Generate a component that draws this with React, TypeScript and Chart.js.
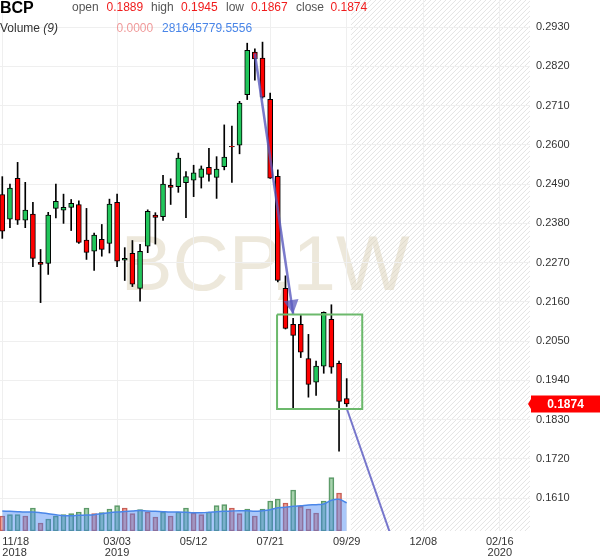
import React, { useEffect, useRef } from 'react';
import { Chart, registerables } from 'chart.js';

Chart.register(...registerables);

const FONT = "Arial, 'Liberation Sans', Helvetica, sans-serif";

// Weekly candles, index 0 = week of 11/18/2018 ... index 45 = week of 09/29/2019
const openP = [
  0.2461, 0.2392, 0.2506, 0.2389, 0.2406, 0.2271, 0.2268, 0.2422, 0.2417, 0.2425,
  0.2433, 0.2333, 0.2302, 0.2335, 0.2324, 0.2439, 0.2277, 0.2296, 0.2198, 0.2316,
  0.2403, 0.2399, 0.2487, 0.2483, 0.2494, 0.2501, 0.2509, 0.2537, 0.2509, 0.2539,
  0.2596, 0.2599, 0.2741, 0.2860, 0.2843, 0.2728, 0.2512, 0.2198, 0.2097, 0.2097,
  0.2001, 0.1935, 0.1980, 0.2111, 0.1988, 0.1889,
];
const highP = [
  0.2511, 0.2490, 0.2551, 0.2495, 0.2439, 0.2307, 0.2411, 0.2490, 0.2462, 0.2447,
  0.2443, 0.2422, 0.2353, 0.2377, 0.2448, 0.2462, 0.2312, 0.2332, 0.2321, 0.2418,
  0.2410, 0.2515, 0.2505, 0.2577, 0.2525, 0.2543, 0.2541, 0.2590, 0.2567, 0.2656,
  0.2653, 0.2722, 0.2885, 0.2869, 0.2888, 0.2745, 0.2530, 0.2233, 0.2114, 0.2122,
  0.2069, 0.1994, 0.2132, 0.2152, 0.1994, 0.1945,
];
const lowP = [
  0.2338, 0.2368, 0.2377, 0.2368, 0.2259, 0.2158, 0.2237, 0.2395, 0.2380, 0.2360,
  0.2324, 0.2279, 0.2248, 0.2288, 0.2297, 0.2259, 0.2220, 0.2203, 0.2162, 0.2298,
  0.2322, 0.2388, 0.2433, 0.2467, 0.2396, 0.2455, 0.2479, 0.2498, 0.2450, 0.2530,
  0.2495, 0.2575, 0.2727, 0.2781, 0.2731, 0.2506, 0.2216, 0.2084, 0.1861, 0.2004,
  0.1893, 0.1898, 0.1960, 0.1960, 0.1742, 0.1867,
];
const closeP = [
  0.2358, 0.2479, 0.2389, 0.2417, 0.2282, 0.2265, 0.2403, 0.2442, 0.2425, 0.2436,
  0.2327, 0.2299, 0.2347, 0.2307, 0.2434, 0.2274, 0.2282, 0.2210, 0.2302, 0.2414,
  0.2397, 0.2490, 0.2481, 0.2563, 0.2511, 0.2522, 0.2533, 0.2517, 0.2532, 0.2566,
  0.2594, 0.2717, 0.2865, 0.2841, 0.2734, 0.2507, 0.2220, 0.2086, 0.2066, 0.2019,
  0.1929, 0.1980, 0.2131, 0.1977, 0.1881, 0.1874,
];
// Volume in millions
const volumeM = [
  150, 163, 163, 150, 230, 80, 120, 150, 163, 173,
  190, 230, 173, 183, 220, 253, 230, 173, 213, 190,
  140, 190, 150, 190, 230, 180, 163, 190, 253, 263,
  230, 173, 220, 150, 220, 300, 320, 280, 410, 247,
  220, 180, 300, 533, 380, 0,
];
const volumeUp = [
  false, true, true, false, true, false, true, true, true, true,
  true, true, false, true, true, true, false, false, true, false,
  false, true, false, true, true, false, false, true, true, true,
  false, false, true, false, true, true, true, false, true, false,
  false, false, true, true, false, false,
];
// Volume moving average (9), millions
const volumeMA = [
  200, 197, 193, 190, 190, 183, 173, 163, 153, 153,
  157, 160, 163, 173, 183, 190, 195, 200, 205, 200,
  197, 193, 190, 190, 187, 183, 183, 187, 193, 197,
  200, 203, 203, 197, 203, 213, 233, 237, 247, 253,
  260, 263, 270, 307, 317, 281.6,
];

const priceTicks = [0.2930, 0.2820, 0.2710, 0.2600, 0.2490, 0.2380, 0.2270, 0.2160, 0.2050, 0.1940, 0.1830, 0.1720, 0.1610];
const dateTickPos = [0, 15, 25, 35, 45, 55, 65];
const dateTickLabels = [['11/18', '2018'], ['03/03', '2019'], ['05/12'], ['07/21'], ['09/29'], ['12/08'], ['02/16', '2020']];

// Drawings (in data coordinates: week index, price)
const arrowLineX = [33, 38];
const arrowLineY = [0.2856, 0.2126];
const trendLineX = [45.03, 51.2];
const trendLineY = [0.1860, 0.1479];
const boxX = [35.9, 47.03];
const boxY = [0.2125, 0.1860];
const futureStart = 45.55;

const X_MIN = -0.3;
const X_MAX = 68.95;
const Y_MIN = 0.1518;
const Y_MAX = 0.3006;
const VOL_MAX = 5310;

const GREEN = '#21c65b';
const RED = '#ff0000';

const zeroPad = (s: any) => {
  s.paddingLeft = 0;
  s.paddingRight = 0;
  s.paddingTop = 0;
  s.paddingBottom = 0;
};

const decorPlugin = {
  id: 'decor',
  beforeDraw(chart: any) {
    const { ctx, chartArea: a, scales } = chart;
    const x0 = scales.x.getPixelForValue(futureStart);
    ctx.save();
    ctx.beginPath();
    ctx.rect(x0, a.top, a.right - x0, a.bottom - a.top);
    ctx.clip();
    ctx.strokeStyle = '#e3e3e3';
    ctx.lineWidth = 1;
    const h = a.bottom - a.top;
    for (let k = x0 - h; k < a.right + 6; k += 5) {
      ctx.beginPath();
      ctx.moveTo(k, a.bottom);
      ctx.lineTo(k + h, a.top);
      ctx.stroke();
    }
    ctx.restore();

    ctx.save();
    ctx.font = `78px ${FONT}`;
    ctx.fillStyle = 'rgba(215,205,175,0.45)';
    ctx.textAlign = 'center';
    ctx.textBaseline = 'alphabetic';
    ctx.fillText('BCP,1W', (a.left + a.right) / 2, (a.top + a.bottom) / 2 + 24);
    ctx.restore();
  },
  afterDatasetsDraw(chart: any) {
    const { ctx, scales } = chart;
    const xs = scales.x;
    const ys = scales.y;
    // arrow head
    const sx = xs.getPixelForValue(arrowLineX[0]);
    const sy = ys.getPixelForValue(arrowLineY[0]);
    const ex = xs.getPixelForValue(arrowLineX[1]);
    const ey = ys.getPixelForValue(arrowLineY[1]);
    const len = Math.hypot(ex - sx, ey - sy);
    const dx = (ex - sx) / len;
    const dy = (ey - sy) / len;
    const bx = ex - dx * 14;
    const by = ey - dy * 14;
    ctx.save();
    ctx.fillStyle = 'rgba(90,90,190,0.75)';
    ctx.beginPath();
    ctx.moveTo(ex, ey);
    ctx.lineTo(bx - dy * 7.5, by + dx * 7.5);
    ctx.lineTo(bx + dy * 7.5, by - dx * 7.5);
    ctx.closePath();
    ctx.fill();
    ctx.restore();

    // last price label
    const last = closeP[closeP.length - 1];
    const py = ys.getPixelForValue(last);
    const left = chart.chartArea.right + 1;
    ctx.save();
    ctx.fillStyle = RED;
    ctx.beginPath();
    ctx.moveTo(left - 3, py);
    ctx.lineTo(left, py - 5);
    ctx.lineTo(left, py - 8.5);
    ctx.lineTo(chart.width, py - 8.5);
    ctx.lineTo(chart.width, py + 8.5);
    ctx.lineTo(left, py + 8.5);
    ctx.lineTo(left, py + 5);
    ctx.closePath();
    ctx.fill();
    ctx.fillStyle = '#ffffff';
    ctx.font = `bold 12px ${FONT}`;
    ctx.textAlign = 'center';
    ctx.textBaseline = 'middle';
    ctx.fillText(last.toFixed(4), (left + chart.width) / 2, py + 0.5);
    ctx.restore();
  },
};

export default function App() {
  const ref = useRef<HTMLCanvasElement | null>(null);

  useEffect(() => {
    if (!ref.current) return;
    const idx = openP.map((_, i) => i);
    const chart = new Chart(ref.current, {
      data: {
        datasets: [
          {
            type: 'line',
            label: 'box',
            data: [
              { x: boxX[0], y: boxY[0] },
              { x: boxX[1], y: boxY[0] },
              { x: boxX[1], y: boxY[1] },
              { x: boxX[0], y: boxY[1] },
              { x: boxX[0], y: boxY[0] },
            ],
            borderColor: '#6cb96c',
            borderWidth: 2,
            pointRadius: 0,
            fill: false,
            tension: 0,
            yAxisID: 'y',
            order: 0,
          } as any,
          {
            type: 'line',
            label: 'arrow',
            data: arrowLineX.map((x, i) => ({ x, y: arrowLineY[i] })),
            borderColor: 'rgba(90,90,190,0.8)',
            borderWidth: 2.5,
            pointRadius: 0,
            fill: false,
            yAxisID: 'y',
            order: 0,
          } as any,
          {
            type: 'line',
            label: 'trend',
            data: trendLineX.map((x, i) => ({ x, y: trendLineY[i] })),
            borderColor: 'rgba(95,95,195,0.85)',
            borderWidth: 2,
            pointRadius: 0,
            fill: false,
            yAxisID: 'y',
            order: 0,
          } as any,
          {
            type: 'bar',
            label: 'body',
            data: idx.map((i) => ({ x: i, y: [openP[i], closeP[i]] })),
            backgroundColor: idx.map((i) => (closeP[i] >= openP[i] ? GREEN : RED)),
            borderColor: '#000000',
            borderWidth: 1,
            borderSkipped: false,
            barThickness: 5,
            grouped: false,
            yAxisID: 'y',
            order: 1,
          } as any,
          {
            type: 'bar',
            label: 'wick',
            data: idx.map((i) => ({ x: i, y: [lowP[i], highP[i]] })),
            backgroundColor: '#000000',
            borderWidth: 0,
            barThickness: 1,
            grouped: false,
            yAxisID: 'y',
            order: 2,
          } as any,
          {
            type: 'line',
            label: 'volMA',
            data: idx.map((i) => ({ x: i, y: volumeMA[i] })),
            borderColor: '#4a86e8',
            borderWidth: 1.5,
            backgroundColor: 'rgba(66,133,244,0.45)',
            fill: 'origin',
            pointRadius: 0,
            tension: 0.4,
            yAxisID: 'yVol',
            order: 5,
          } as any,
          {
            type: 'bar',
            label: 'volume',
            data: idx.map((i) => ({ x: i, y: volumeM[i] })),
            backgroundColor: idx.map((i) => (volumeUp[i] ? 'rgba(110,180,120,0.6)' : 'rgba(230,110,95,0.6)')),
            borderColor: idx.map((i) => (volumeUp[i] ? 'rgba(60,130,75,0.85)' : 'rgba(185,65,55,0.85)')),
            borderWidth: 1,
            borderSkipped: false,
            barThickness: 5,
            grouped: false,
            yAxisID: 'yVol',
            order: 6,
          } as any,
        ],
      },
      options: {
        animation: false,
        responsive: false,
        maintainAspectRatio: false,
        layout: { padding: 0 },
        plugins: { legend: { display: false }, tooltip: { enabled: false } },
        scales: {
          x: {
            type: 'linear',
            min: X_MIN,
            max: X_MAX,
            offset: false,
            grid: {
              offset: false,
              drawTicks: false,
              color: (c: any) => (c.tick && c.tick.value > X_MAX - 1 ? 'rgba(0,0,0,0)' : '#efefef'),
            },
            border: { display: false },
            ticks: {
              autoSkip: false,
              maxRotation: 0,
              minRotation: 0,
              align: 'inner',
              padding: 6,
              color: '#333333',
              font: { size: 11, family: FONT, lineHeight: 0.95 },
              callback: (v: any) => {
                const k = dateTickPos.indexOf(v);
                return k >= 0 ? dateTickLabels[k] : '';
              },
            },
            afterBuildTicks: (s: any) => {
              s.ticks = [...dateTickPos.map((v) => ({ value: v })), { value: X_MAX }];
            },
            afterFit: (s: any) => {
              s.height = 27;
              zeroPad(s);
            },
          },
          y: {
            type: 'linear',
            position: 'right',
            min: Y_MIN,
            max: Y_MAX,
            grid: { color: '#efefef', drawTicks: false },
            border: { display: false },
            ticks: {
              padding: 6,
              color: '#333333',
              font: { size: 11, family: FONT },
              callback: (v: any) => Number(v).toFixed(4),
            },
            afterBuildTicks: (s: any) => {
              s.ticks = priceTicks.map((v) => ({ value: v }));
            },
            afterFit: (s: any) => {
              s.width = 70;
              zeroPad(s);
            },
          },
          yVol: {
            type: 'linear',
            display: false,
            min: 0,
            max: VOL_MAX,
          },
        },
      } as any,
      plugins: [decorPlugin],
    });
    return () => chart.destroy();
  }, []);

  const last = openP.length - 1;
  const lbl: React.CSSProperties = { position: 'absolute', fontSize: 12, lineHeight: '14px', color: '#555555', whiteSpace: 'nowrap' };
  const num: React.CSSProperties = { ...lbl, color: '#f01c1c' };

  return (
    <div style={{ position: 'absolute', left: 0, top: 0, width: 600, height: 558, fontFamily: FONT, background: '#ffffff' }}>
      <canvas ref={ref} width={600} height={558} style={{ position: 'absolute', left: 0, top: 0 }} />
      <span style={{ position: 'absolute', left: 0, top: -1, fontSize: 16, lineHeight: '18px', fontWeight: 'bold', color: '#000' }}>BCP</span>
      <span style={{ ...lbl, left: 72, top: 0 }}>open</span>
      <span style={{ ...num, left: 106.5, top: 0 }}>{openP[last].toFixed(4)}</span>
      <span style={{ ...lbl, left: 151, top: 0 }}>high</span>
      <span style={{ ...num, left: 181, top: 0 }}>{highP[last].toFixed(4)}</span>
      <span style={{ ...lbl, left: 226, top: 0 }}>low</span>
      <span style={{ ...num, left: 251, top: 0 }}>{lowP[last].toFixed(4)}</span>
      <span style={{ ...lbl, left: 296, top: 0 }}>close</span>
      <span style={{ ...num, left: 330.5, top: 0 }}>{closeP[last].toFixed(4)}</span>
      <span style={{ ...lbl, left: 0, top: 21, color: '#333333' }}>
        Volume <i>(9)</i>
      </span>
      <span style={{ ...lbl, left: 116.5, top: 21, color: '#f09a9a' }}>{volumeM[last].toFixed(4)}</span>
      <span style={{ ...lbl, left: 162, top: 21, color: '#4a86e8' }}>281645779.5556</span>
    </div>
  );
}
